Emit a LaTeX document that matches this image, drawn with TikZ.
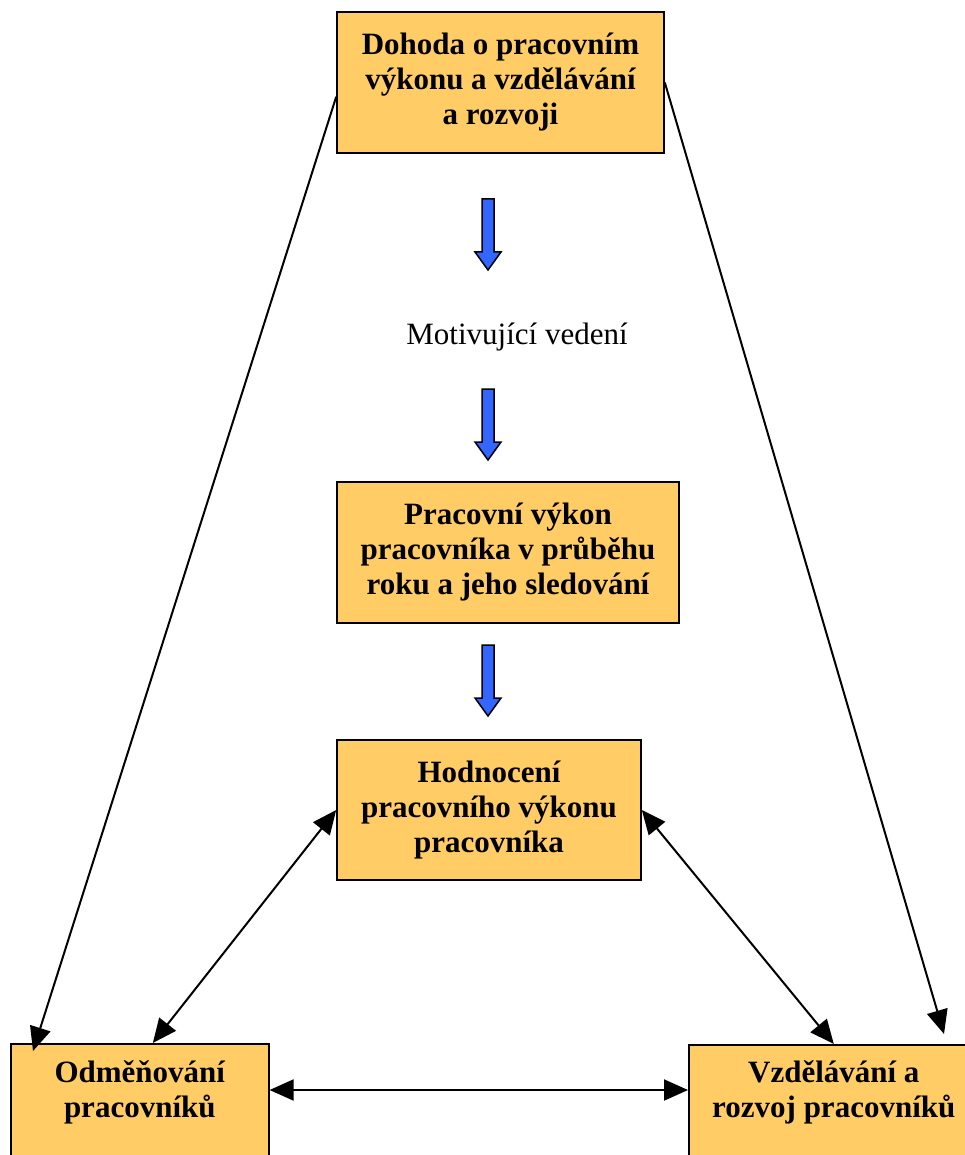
\documentclass[tikz,border=0pt]{standalone}
\usepackage{fontspec}
\setmainfont{Liberation Serif}
\usetikzlibrary{arrows.meta,calc}
\definecolor{boxfill}{RGB}{255,204,102}
\definecolor{arrowblue}{RGB}{51,102,255}
\begin{document}
\begin{tikzpicture}[x=1pt,y=-1pt,
    box/.style={draw=black,line width=1.6pt,fill=boxfill,inner sep=0pt},
    boxtext/.style={align=center,font=\fontsize{31}{35}\selectfont\bfseries},
    link/.style={line width=2pt,-{Triangle[length=24pt,width=21pt]}},
    twolink/.style={line width=2pt,{Triangle[length=24pt,width=21pt]}-{Triangle[length=24pt,width=21pt]}}]
    % Canvas
    \useasboundingbox (0,0) rectangle (965,1155);
    \clip (0,0) rectangle (965,1155);

    % Boxes
    \node[box,boxtext,minimum width=327pt,minimum height=141pt] (dohoda) at (500.5,82.5)
        {Dohoda o pracovním\\výkonu a vzdělávání\\a rozvoji};
    \node[box,boxtext,minimum width=342pt,minimum height=141pt] (vykon) at (508,552.5)
        {Pracovní výkon\\pracovníka v průběhu\\roku a jeho sledování};
    \node[box,boxtext,minimum width=304pt,minimum height=140pt] (hodn) at (489,810)
        {Hodnocení\\pracovního výkonu\\pracovníka};
    \node[box,anchor=north west,minimum width=258pt,minimum height=160pt] (odm) at (10,1043) {};
    \node[box,anchor=north west,minimum width=290pt,minimum height=160pt] (vzd) at (688,1044) {};
    \node[boxtext] (odmtext) at ([yshift=-49pt]odm.north) {Odměňování\\pracovníků};
    \node[boxtext] (vzdtext) at ([yshift=-48pt]vzd.north) {Vzdělávání a\\rozvoj pracovníků};

    % Middle label
    \node[font=\fontsize{31}{35}\selectfont] (motiv) at (517,337) {Motivující vedení};

    % Blue arrows
    \foreach \y in {199,389,645}
        \draw[fill=arrowblue,line width=1.5pt] (482,\y) -- (494,\y) -- (494,\y+53) -- (501,\y+53)
            -- (488,\y+71) -- (475,\y+53) -- (482,\y+53) -- cycle;

    % Coordinates
    \coordinate (odmtip) at (33,1051);
    \coordinate (vzdtip) at (944,1034);

    % Draw the connectors
    \draw[link] ($(dohoda.north west)!0.6!(dohoda.south west)$) -- (odmtip);
    \draw[link] (dohoda.east) -- (vzdtip);
    \draw[twolink] (hodn.west) -- ([xshift=13pt]odm.north);
    \draw[twolink] (hodn.east) -- (vzd.north);
    \draw[twolink] ([yshift=-47pt]odm.north east) -- ([yshift=-46pt]vzd.north west);
\end{tikzpicture}
\end{document}
